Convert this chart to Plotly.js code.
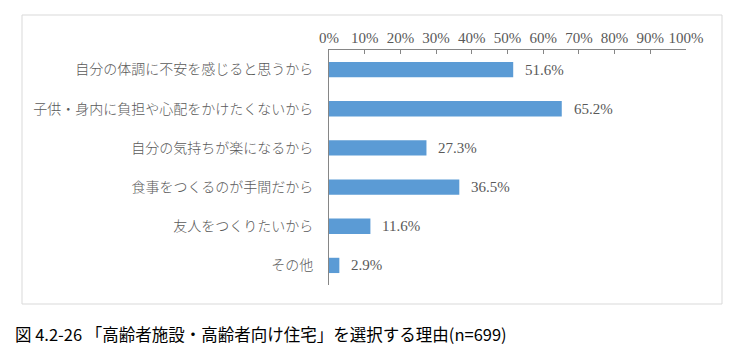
<!DOCTYPE html>
<html><head><meta charset="utf-8">
<script src="https://cdn.plot.ly/plotly-3.0.1.min.js"></script>
<style>html,body{margin:0;padding:0;background:#fff;}#chart{width:737px;height:352px;}</style>
</head><body><div id="chart"></div>
<script>
const categories = ["自分の体調に不安を感じると思うから","子供・身内に負担や心配をかけたくないから","自分の気持ちが楽になるから","食事をつくるのが手間だから","友人をつくりたいから","その他"];
const values = [51.6, 65.2, 27.3, 36.5, 11.6, 2.9];
const tickVals = [0,10,20,30,40,50,60,70,80,90,100];
const tickLabels = tickVals.map(v => v + "%");
const caption = "図 4.2-26 「高齢者施設・高齢者向け住宅」を選択する理由(n=699)";

const W = 737, H = 352;
const L = 329, R = 51, T = 50, B = 67;
const pw = W - L - R, ph = H - T - B;
const px = x => (x - L) / pw;
const py = y => 1 - (y - T) / ph;

const serif = '"Liberation Serif", "Noto Sans CJK JP", serif';
const grey = '#595959';

const trace = {
  type: 'bar', orientation: 'h',
  x: values, y: categories,
  marker: {color: '#5B9BD5'},
  width: 0.39,
  hoverinfo: 'none'
};

const annotations = values.map((v, i) => ({
  x: v, y: categories[i], xref: 'x', yref: 'y',
  text: v.toFixed(1) + '%', showarrow: false,
  xanchor: 'left', xshift: 10,
  font: {family: serif, size: 15, color: grey}
}));
annotations.push({
  x: px(13), y: py(334), xref: 'paper', yref: 'paper',
  text: caption, showarrow: false, xanchor: 'left', yanchor: 'middle',
  font: {family: '"Noto Sans CJK JP", sans-serif', size: 16.5, color: '#000'}
});

const layout = {
  width: W, height: H,
  margin: {l: L, r: R, t: T, b: B, pad: 0},
  paper_bgcolor: '#fff', plot_bgcolor: '#fff',
  showlegend: false,
  bargap: 0.61,
  xaxis: {
    side: 'top', range: [0, 100], tickvals: tickVals, ticktext: tickLabels,
    showgrid: false, zeroline: false, showline: true, linecolor: '#868686', linewidth: 1,
    ticks: 'inside', ticklen: 4, tickcolor: '#868686',
    tickfont: {family: serif, size: 15, color: grey}, fixedrange: true
  },
  yaxis: {
    autorange: 'reversed', showgrid: false, zeroline: false,
    showline: true, linecolor: '#868686', linewidth: 1,
    ticks: '', ticklabelstandoff: 12,
    tickfont: {family: '"Noto Sans CJK JP", sans-serif', size: 14, color: grey, weight: 300}, fixedrange: true
  },
  shapes: [{
    type: 'rect', xref: 'paper', yref: 'paper',
    x0: px(22), x1: px(722), y0: py(15), y1: py(304),
    line: {color: '#D9D9D9', width: 1}, fillcolor: 'rgba(0,0,0,0)', layer: 'below'
  }],
  annotations: annotations
};

Plotly.newPlot('chart', [trace], layout, {displayModeBar: false, staticPlot: true});
</script></body></html>
